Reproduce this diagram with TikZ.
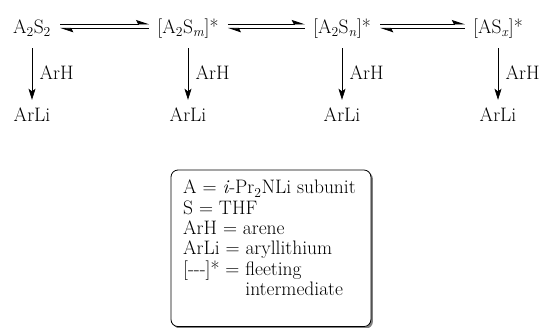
\documentclass[tikz,border=0pt]{standalone}
\usepackage{fontspec}
\usepackage{tikz}
\usetikzlibrary{arrows.meta,positioning,fit,backgrounds,shadows}
\newcommand{\subs}[1]{\textsubscript{#1}}

\tikzset{
  species/.style={anchor=base, inner sep=3pt, text height=13.5pt, text depth=4.3pt},
  fwd/.style={line width=0.8pt, shorten <=6pt, shorten >=5pt,
    -{Stealth[harpoon, length=12pt, width=8pt, inset=2pt]}},
  bwd/.style={line width=0.8pt, shorten <=6pt, shorten >=5pt,
    {Stealth[harpoon, length=12pt, width=8pt, inset=2pt]}-},
  lith/.style={line width=0.7pt, shorten <=7.7pt, shorten >=4.5pt,
    -{Stealth[length=11pt, width=7pt, inset=2.5pt]}},
  legbox/.style={draw, line width=0.8pt, rounded corners=7pt, fill=white,
    inner xsep=12pt, inner ysep=10pt,
    drop shadow={shadow xshift=2pt, shadow yshift=-2pt, fill=black!50, opacity=1}}
}

\begin{document}
\begin{tikzpicture}[x=1pt, y=-1pt, font=\fontsize{19.5}{20.3}\selectfont]
\useasboundingbox (0,0) rectangle (549,327);

% aggregates in equilibrium
\node[species] (a2s2) at (32,33)  {A\subs{2}S\subs{2}};
\node[species] (a2sm) at (188,33) {[A\subs{2}S\subs{\textit{m}}]*};
\node[species] (a2sn) at (342,33) {[A\subs{2}S\subs{\textit{n}}]*};
\node[species] (asx)  at (498,33) {[AS\subs{\textit{x}}]*};

\draw[fwd] ([yshift=4.4pt]a2s2.east) -- ([yshift=4.4pt]a2sm.west);
\draw[bwd] ([yshift=0.1pt]a2s2.east) -- ([yshift=0.1pt]a2sm.west);
\draw[fwd] ([yshift=4.4pt]a2sm.east) -- ([yshift=4.4pt]a2sn.west);
\draw[bwd] ([yshift=0.1pt]a2sm.east) -- ([yshift=0.1pt]a2sn.west);
\draw[fwd] ([yshift=4.4pt]a2sn.east) -- ([yshift=4.4pt]asx.west);
\draw[bwd] ([yshift=0.1pt]a2sn.east) -- ([yshift=0.1pt]asx.west);

% metalation products
\coordinate (lirow) at (0,121);
\node[species] (li1) at (a2s2.base |- lirow) {ArLi};
\node[species] (li2) at (a2sm.base |- lirow) {ArLi};
\node[species] (li3) at (a2sn.base |- lirow) {ArLi};
\node[species] (li4) at (asx.base |- lirow)  {ArLi};

\draw[lith] (a2s2) -- node[right=4pt] {ArH} (li1);
\draw[lith] (a2sm) -- node[right=4pt] {ArH} (li2);
\draw[lith] (a2sn) -- node[right=4pt] {ArH} (li3);
\draw[lith] (asx)  -- node[right=4pt] {ArH} (li4);

% key
\node[anchor=north west, align=left, inner sep=0pt] (legtext) at (183,180)
  {A = \textit{i}-Pr\subs{2}NLi subunit\\
   S = THF\\
   ArH = arene\\
   ArLi = aryllithium\\
   {[}-{}-{}-{]}* = fleeting\\
   \phantom{{[}-{}-{}-{]}* = }intermediate};
\coordinate (legfoot) at ([xshift=3pt, yshift=-16pt]legtext.south east);
\begin{scope}[on background layer]
\node[legbox, fit=(legtext) (legfoot)] (legend) {};
\end{scope}
\end{tikzpicture}
\end{document}
